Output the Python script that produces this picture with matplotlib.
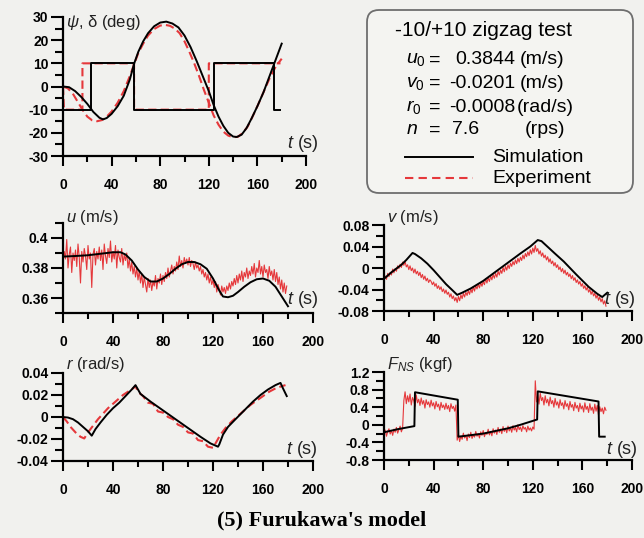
import numpy as np
import matplotlib
matplotlib.use("Agg")
import matplotlib.pyplot as plt
from matplotlib.patches import FancyBboxPatch
from matplotlib.lines import Line2D
from matplotlib.transforms import IdentityTransform
from matplotlib.ticker import MultipleLocator, FixedLocator, FixedFormatter

plt.rcParams["font.family"] = "Liberation Sans"
plt.rcParams["mathtext.fontset"] = "custom"
plt.rcParams["mathtext.rm"] = "Liberation Sans"
plt.rcParams["mathtext.it"] = "Liberation Sans:italic"

# === data ===
# heading psi and rudder delta (deg)
t_psi_sim = [0, 5, 10, 15, 20, 25, 30, 33, 36, 40, 45, 50, 55, 58.5, 62, 66, 70, 75, 80, 85,
             90, 95, 100, 105, 110, 115, 120, 124, 128, 132, 136, 140, 143, 147, 151, 155,
             160, 165, 170, 175, 180]
psi_sim = [0, -0.3, -2, -4.5, -7.5, -11, -13.5, -14.2, -13.6, -11.8, -8.5, -4, 3, 9.8, 15,
           19.5, 23, 26, 27.6, 28, 27.2, 25.5, 22, 17, 11, 4.5, -2, -8, -13, -17, -20, -21.6,
           -21.8, -20.8, -18, -14, -8.5, -2.5, 4.5, 11.5, 18.5]
t_psi_exp = [0, 4, 8, 12, 16, 20, 24, 28, 32, 36, 40, 45, 50, 55, 58.5, 62, 66, 70, 75, 80,
             84, 88, 92, 96, 100, 104, 108, 112, 116, 120, 124, 128, 132, 136, 140, 144, 148,
             152, 156, 160, 165, 170, 175, 180]
psi_exp = [0, -0.8, -3, -6.5, -10, -13, -14.6, -15, -14.5, -13, -10.8, -7, -2, 4.5, 9.5, 14.5,
           18.5, 22, 24.8, 26.3, 26.6, 26.2, 25, 23, 19.5, 15, 10, 4.5, -1.5, -7, -12.5, -16.5,
           -19.5, -21.2, -21.9, -21.7, -20, -17.3, -13, -8.5, -2.5, 3.5, 8.5, 12]
t_delta_sim = [0, 23, 23, 58.5, 58.5, 124, 124, 174, 174, 179]
delta_sim = [-10, -10, 10, 10, -10, -10, 10, 10, -10, -10]
t_delta_exp = [0, 0.8, 16, 16, 58.5, 58.5, 120, 120, 179]
delta_exp = [0, -10, -10, 10, 10, -10, -10, 10, 10]

# surge velocity u (m/s)
t_u_sim = [0, 10, 20, 30, 40, 46, 50, 55, 60, 65, 70, 75, 80, 85, 90, 95, 100, 105, 110, 115,
           120, 125, 128, 132, 136, 140, 145, 150, 155, 160, 165, 170, 175, 180]
u_sim = [0.3876, 0.3880, 0.3885, 0.3895, 0.3905, 0.3905, 0.3890, 0.3850, 0.3790, 0.3740,
         0.3710, 0.3710, 0.3730, 0.3760, 0.3795, 0.3825, 0.3840, 0.3840, 0.3825, 0.3795,
         0.3730, 0.3650, 0.3610, 0.3605, 0.3615, 0.3640, 0.3675, 0.3705, 0.3725, 0.3730,
         0.3715, 0.3675, 0.3610, 0.3545]
u_exp = [0.383, 0.391, 0.386, 0.399, 0.380, 0.389, 0.394, 0.377, 0.390, 0.385,
         0.392, 0.381, 0.396, 0.387, 0.370, 0.391, 0.384, 0.393, 0.388, 0.379,
         0.395, 0.386, 0.390, 0.367, 0.389, 0.393, 0.382, 0.391, 0.386, 0.394,
         0.385, 0.392, 0.379, 0.396, 0.388, 0.383, 0.393, 0.387, 0.398, 0.384,
         0.391, 0.386, 0.395, 0.380, 0.392, 0.387, 0.384, 0.393, 0.382, 0.389,
         0.385, 0.390, 0.380, 0.386, 0.378, 0.384, 0.376, 0.381, 0.374, 0.380,
         0.372, 0.378, 0.370, 0.376, 0.367, 0.374, 0.369, 0.364, 0.373, 0.367,
         0.372, 0.365, 0.371, 0.368, 0.375, 0.366, 0.373, 0.370, 0.376, 0.369,
         0.375, 0.371, 0.377, 0.373, 0.380, 0.374, 0.378, 0.382, 0.376, 0.381,
         0.378, 0.384, 0.379, 0.388, 0.381, 0.385, 0.380, 0.387, 0.383, 0.386,
         0.382, 0.387, 0.381, 0.385, 0.383, 0.379, 0.384, 0.380, 0.382, 0.378,
         0.381, 0.376, 0.379, 0.374, 0.377, 0.372, 0.376, 0.370, 0.374, 0.369,
         0.372, 0.367, 0.371, 0.364, 0.369, 0.366, 0.362, 0.368, 0.364, 0.367,
         0.363, 0.368, 0.365, 0.370, 0.366, 0.371, 0.368, 0.373, 0.369, 0.375,
         0.370, 0.376, 0.372, 0.378, 0.371, 0.377, 0.374, 0.380, 0.373, 0.378,
         0.375, 0.381, 0.376, 0.383, 0.374, 0.380, 0.377, 0.385, 0.376, 0.381,
         0.374, 0.382, 0.377, 0.379, 0.373, 0.381, 0.375, 0.378, 0.372, 0.379,
         0.371, 0.377, 0.369, 0.374, 0.366, 0.372, 0.364, 0.370, 0.363, 0.368]

# sway velocity v (m/s)
t_v_sim = [0, 3, 6, 10, 14, 18, 23, 25, 30, 35, 40, 45, 50, 55, 59, 63, 70, 80, 90, 100, 110,
           118, 124, 127, 137.8, 145, 155, 165, 172, 176, 180]
v_sim = [-0.020, -0.014, -0.008, -0.001, 0.006, 0.015, 0.028, 0.026, 0.018, 0.008, -0.004,
         -0.017, -0.030, -0.041, -0.050, -0.046, -0.038, -0.024, -0.007, 0.010, 0.027, 0.040,
         0.052, 0.050, 0.027, 0.012, -0.012, -0.035, -0.048, -0.054, -0.046]
v_exp = [-0.024, -0.015, -0.021, -0.010, -0.016, -0.008, -0.013, -0.002, -0.009, -0.001,
         -0.006, 0.004, -0.001, 0.007, 0.001, 0.011, 0.005, 0.012, 0.002, 0.006,
         -0.003, 0.004, -0.005, 0.000, -0.009, -0.002, -0.011, -0.006, -0.014, -0.008,
         -0.018, -0.012, -0.021, -0.015, -0.024, -0.019, -0.027, -0.022, -0.025, -0.031,
         -0.026, -0.034, -0.029, -0.038, -0.033, -0.040, -0.035, -0.044, -0.039, -0.047,
         -0.041, -0.049, -0.045, -0.054, -0.048, -0.057, -0.052, -0.061, -0.055, -0.064,
         -0.053, -0.061, -0.050, -0.057, -0.047, -0.054, -0.045, -0.051, -0.042, -0.049,
         -0.039, -0.046, -0.035, -0.043, -0.033, -0.039, -0.030, -0.037, -0.027, -0.034,
         -0.025, -0.031, -0.020, -0.028, -0.018, -0.025, -0.015, -0.022, -0.012, -0.019,
         -0.010, -0.017, -0.006, -0.013, -0.004, -0.010, 0.001, -0.007, 0.003, -0.004,
         0.006, -0.001, 0.009, 0.003, 0.012, 0.006, 0.015, 0.008, 0.018, 0.011,
         0.020, 0.014, 0.024, 0.017, 0.027, 0.021, 0.030, 0.023, 0.034, 0.026,
         0.037, 0.029, 0.042, 0.031, 0.036, 0.026, 0.032, 0.022, 0.028, 0.019,
         0.024, 0.015, 0.021, 0.011, 0.017, 0.008, 0.013, 0.004, 0.010, 0.001,
         0.006, -0.003, 0.002, -0.007, -0.001, -0.010, -0.004, -0.013, -0.008, -0.016,
         -0.011, -0.020, -0.014, -0.023, -0.018, -0.027, -0.022, -0.030, -0.025, -0.034,
         -0.029, -0.038, -0.033, -0.041, -0.036, -0.045, -0.040, -0.049, -0.043, -0.052,
         -0.047, -0.056, -0.050, -0.060, -0.054, -0.063, -0.057, -0.067, -0.061, -0.071]

# yaw rate r (rad/s)
t_r_sim = [0, 4, 8, 12, 16, 20, 23, 26, 30, 35, 40, 45, 50, 55, 58, 59.5, 62, 70, 80, 90, 100,
           110, 118, 124, 125, 128, 132, 138, 145, 152, 158, 164, 170, 174, 176, 179]
r_sim = [0.0, -0.0005, -0.002, -0.005, -0.009, -0.013, -0.017, -0.011, -0.005, 0.002, 0.008,
         0.013, 0.019, 0.025, 0.029, 0.026, 0.021, 0.014, 0.006, -0.002, -0.010, -0.018, -0.024,
         -0.027, -0.025, -0.016, -0.009, -0.002, 0.006, 0.014, 0.020, 0.025, 0.029, 0.031,
         0.026, 0.019]
t_r_exp = [0, 3, 6, 10, 14, 17, 20, 24, 28, 32, 36, 40, 44, 48, 52, 56, 58, 60, 64, 68, 72, 76,
           80, 84, 88, 92, 96, 100, 104, 108, 112, 116, 120, 123, 126, 130, 135, 140, 145, 150,
           155, 160, 165, 170, 175, 178]
r_exp = [0.0, -0.004, -0.009, -0.014, -0.018, -0.0195, -0.014, -0.008, -0.002, 0.003, 0.008,
         0.012, 0.016, 0.020, 0.023, 0.026, 0.028, 0.023, 0.019, 0.013, 0.012, 0.005, 0.004,
         0.000, -0.002, -0.007, -0.009, -0.014, -0.015, -0.021, -0.022, -0.027, -0.028, -0.022,
         -0.016, -0.010, -0.004, 0.001, 0.006, 0.011, 0.015, 0.019, 0.023, 0.026, 0.028, 0.029]

# normal force F_NS (kgf)
t_f_sim = [0, 11, 24.5, 25, 59.5, 60, 80, 100, 110, 123.5, 124, 173, 173.5, 178]
f_sim = [-0.17, -0.10, -0.03, 0.74, 0.57, -0.27, -0.20, -0.08, 0.0, 0.12, 0.76, 0.53, -0.27,
         -0.27]
f_exp = [-0.22, -0.12, -0.26, -0.15, -0.09, -0.21, -0.13, -0.24, -0.10, -0.17,
         -0.06, -0.19, -0.11, -0.03, -0.16, -0.08, 0.55, 0.75, 0.48, 0.66,
         0.52, 0.70, 0.45, 0.62, 0.55, 0.42, 0.68, 0.50, 0.58, 0.44,
         0.61, 0.47, 0.55, 0.38, 0.57, 0.46, 0.52, 0.40, 0.56, 0.43,
         0.50, 0.36, 0.53, 0.41, 0.47, 0.33, 0.51, 0.39, 0.45, 0.35,
         0.49, 0.36, 0.44, 0.30, 0.48, 0.37, 0.42, 0.31, 0.45, -0.35,
         -0.22, -0.38, -0.26, -0.33, -0.19, -0.30, -0.24, -0.36, -0.21, -0.29,
         -0.17, -0.31, -0.23, -0.28, -0.15, -0.26, -0.20, -0.30, -0.16, -0.24,
         -0.13, -0.27, -0.18, -0.22, -0.10, -0.23, -0.15, -0.25, -0.09, -0.19,
         -0.12, -0.22, -0.06, -0.17, -0.10, -0.20, -0.04, -0.15, -0.08, -0.18,
         -0.03, -0.14, -0.07, -0.17, -0.02, -0.12, -0.06, -0.16, 0.00, -0.11,
         -0.05, -0.15, -0.02, -0.10, -0.06, -0.16, -0.03, -0.12, -0.07, -0.14,
         -0.05, -0.10, 1.00, 0.52, 0.68, 0.47, 0.72, 0.55, 0.62, 0.45,
         0.66, 0.50, 0.58, 0.43, 0.63, 0.48, 0.55, 0.40, 0.60, 0.45,
         0.52, 0.38, 0.57, 0.44, 0.50, 0.36, 0.55, 0.42, 0.48, 0.34,
         0.53, 0.40, 0.46, 0.32, 0.51, 0.38, 0.44, 0.30, 0.49, 0.36,
         0.43, 0.29, 0.50, 0.35, 0.42, 0.28, 0.48, 0.33, 0.40, 0.26,
         0.47, 0.31, 0.44, 0.22, 0.41, 0.30, 0.38, 0.25, 0.40, 0.33]

t_exp = np.arange(0, 180, 1)  # 1 s sampling of the measured series

x_ticks = [0, 40, 80, 120, 160, 200]
x_labels = ["0", "40", "80", "120", "160", "200"]

W, H = 644, 538
BG = "#f1f1ee"
RED = "#e5383b"

fig = plt.figure(figsize=(W / 100, H / 100), dpi=100, facecolor=BG)


def rect(x0, x1, y0, y1):
    return [x0 / W, 1 - y1 / H, (x1 - x0) / W, (y1 - y0) / H]


def setup(ax, ylim, yticks, ylabels, yminor, ylab, ylab_dy, t_off):
    ax.set_facecolor("none")
    for s in ["top", "right"]:
        ax.spines[s].set_visible(False)
    for s in ["left", "bottom"]:
        ax.spines[s].set_linewidth(1.6)
    ax.set_xlim(0, 200)
    ax.set_ylim(*ylim)
    ax.xaxis.set_major_locator(FixedLocator(x_ticks))
    ax.xaxis.set_major_formatter(FixedFormatter(x_labels))
    ax.xaxis.set_minor_locator(MultipleLocator(20))
    ax.yaxis.set_major_locator(FixedLocator(yticks))
    ax.yaxis.set_major_formatter(FixedFormatter(ylabels))
    ax.yaxis.set_minor_locator(MultipleLocator(yminor))
    ax.tick_params(axis="x", which="major", length=7.5, width=1.5, pad=8, labelsize=10)
    ax.tick_params(axis="x", which="minor", length=4.5, width=1.5)
    ax.tick_params(axis="y", which="major", length=9, width=1.5, pad=1.5, labelsize=10)
    ax.tick_params(axis="y", which="minor", length=5.5, width=1.5)
    for lbl in ax.get_xticklabels() + ax.get_yticklabels():
        lbl.set_fontweight("bold")
    ax.annotate(ylab, xy=(0, 1), xycoords="axes fraction", xytext=(3, ylab_dy),
                textcoords="offset pixels", ha="left", va="center", fontsize=12, color="#222")
    ax.annotate("$t$ (s)", xy=(1, 0), xycoords="axes fraction", xytext=t_off,
                textcoords="offset pixels", ha="center", va="center", fontsize=13, color="#222")


# psi, delta
ax1 = fig.add_axes(rect(63, 306, 17, 156))
ax1.plot(t_delta_exp, delta_exp, color=RED, lw=1.5, dashes=(4, 2))
ax1.plot(t_psi_exp, psi_exp, color=RED, lw=1.5, dashes=(4, 2))
ax1.plot(t_delta_sim, delta_sim, color="k", lw=1.4)
ax1.plot(t_psi_sim, psi_sim, color="k", lw=1.4)
setup(ax1, (-30, 30), [-30, -20, -10, 0, 10, 20, 30],
      ["-30", "-20", "-10", "0", "10", "20", "30"], 5,
      r"$\psi$, δ (deg)", -5, (-3, 12))

# u
ax2 = fig.add_axes(rect(63, 313, 223, 313))
ax2.plot(t_exp, u_exp, color=RED, lw=0.8)
ax2.plot(t_u_sim, u_sim, color="k", lw=1.4)
setup(ax2, (0.35, 0.41), [0.36, 0.38, 0.40], ["0.36", "0.38", "0.4"], 0.01,
      "$u$ (m/s)", 6, (-10, 13))

# v
ax3 = fig.add_axes(rect(384, 632, 225, 311))
ax3.plot(t_exp, v_exp, color=RED, lw=0.8)
ax3.plot(t_v_sim, v_sim, color="k", lw=1.4)
setup(ax3, (-0.08, 0.08), [-0.08, -0.04, 0, 0.04, 0.08],
      ["-0.08", "-0.04", "0", "0.04", "0.08"], 0.02, "$v$ (m/s)", 8, (-12, 11))

# r
ax4 = fig.add_axes(rect(63, 313, 373, 461))
ax4.plot(t_r_exp, r_exp, color=RED, lw=1.5, dashes=(4, 2))
ax4.plot(t_r_sim, r_sim, color="k", lw=1.4)
setup(ax4, (-0.04, 0.04), [-0.04, -0.02, 0, 0.02, 0.04],
      ["-0.04", "-0.02", "0", "0.02", "0.04"], 0.01, "$r$ (rad/s)", 8, (-11, 12))

# F_NS
ax5 = fig.add_axes(rect(384, 632, 372, 460))
ax5.plot(t_exp, f_exp, color=RED, lw=0.8)
ax5.plot(t_f_sim, f_sim, color="k", lw=1.4)
setup(ax5, (-0.8, 1.2), [-0.8, -0.4, 0, 0.4, 0.8, 1.2],
      ["-0.8", "-0.4", "0", "0.4", "0.8", "1.2"], 0.2,
      r"$F_{\mathit{NS}}$ (kgf)", 7, (-10, 10))

# === info box ===
box = FancyBboxPatch((367, H - 193), 266, 183, boxstyle="round,pad=0,rounding_size=12",
                     transform=IdentityTransform(), facecolor="#f4f4f1", edgecolor="#6e6e6e",
                     lw=1.3)
fig.add_artist(box)


def ftext(x, y, s, **kw):
    fig.text(x / W, 1 - y / H, s, va="center", **kw)


ftext(395, 30, "-10/+10 zigzag test", fontsize=15)
rows = [
    (r"$u_{\mathit{0}}$", "0.3844", "(m/s)", 60, 520),
    (r"$v_{\mathit{0}}$", "-0.0201", "(m/s)", 83, 520),
    (r"$r_{\mathit{0}}$", "-0.0008", "(rad/s)", 107, 517),
]
for name, val, unit, y, ux in rows:
    ftext(406, y, name, fontsize=14)
    ftext(429, y, "=", fontsize=14)
    ftext(515, y, val, fontsize=14, ha="right")
    ftext(ux, y, unit, fontsize=14)
ftext(406, 130, "$n$", fontsize=14)
ftext(429, 130, "=", fontsize=14)
ftext(452, 130, "7.6", fontsize=14)
ftext(525, 130, "(rps)", fontsize=14)

fig.add_artist(Line2D([405 / W, 473 / W], [1 - 157 / H] * 2, transform=fig.transFigure,
                      color="k", lw=1.4))
fig.add_artist(Line2D([405 / W, 473 / W], [1 - 178 / H] * 2, transform=fig.transFigure,
                      color=RED, lw=1.5, dashes=(4, 2.5)))
ftext(492, 157, "Simulation", fontsize=14)
ftext(492, 178, "Experiment", fontsize=14)

fig.text(322 / W, 1 - 520 / H, "(5) Furukawa's model", family="Liberation Serif",
         weight="bold", fontsize=16, ha="center", va="center")

fig.savefig("out.png", dpi=100, facecolor=BG)
